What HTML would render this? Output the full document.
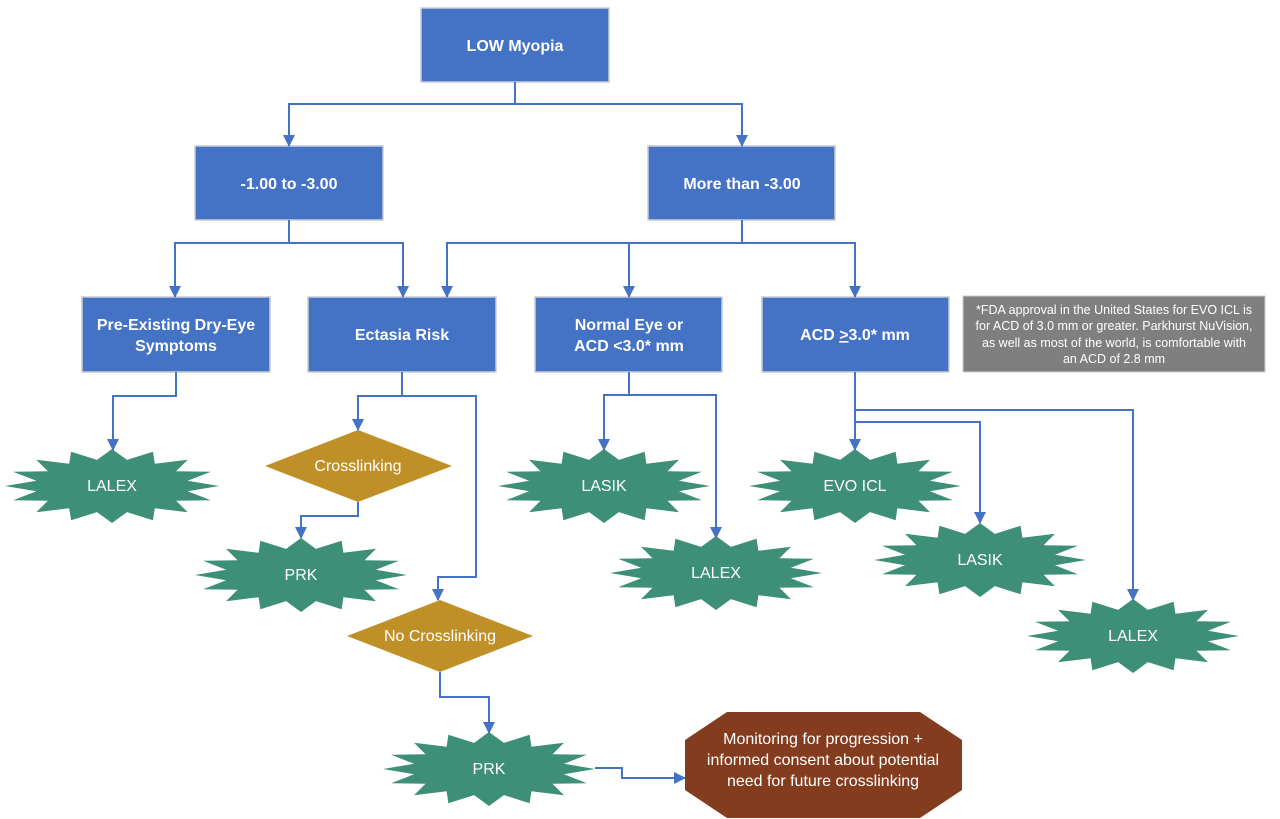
<!DOCTYPE html>
<html><head><meta charset="utf-8"><style>
body{margin:0;background:#fff;width:1280px;height:819px;overflow:hidden}
svg{display:block;font-family:"Liberation Sans",Arial,sans-serif}
.b{fill:#4472c4;stroke:#c9ccd3;stroke-width:1.5}
.bt{fill:#fff;font-weight:bold;font-size:16px;text-anchor:middle}
.t{fill:#fff;font-size:16px;text-anchor:middle}
.l{fill:none;stroke:#4472c4;stroke-width:2}
.st{fill:#3d8f77}
</style></head><body>
<svg id="s" width="1280" height="819" viewBox="0 0 1280 819">
<defs><marker id="a" markerWidth="14" markerHeight="14" refX="6" refY="11" orient="0" markerUnits="userSpaceOnUse"><path d="M0,0 L12,0 L6,12 Z" fill="#4472c4"/></marker>
<marker id="ar" markerWidth="14" markerHeight="14" refX="11" refY="6" orient="0" markerUnits="userSpaceOnUse"><path d="M0,0 L12,6 L0,12 Z" fill="#4472c4"/></marker></defs>
<g id="stars"></g>
<rect class="b" x="421" y="8" width="188" height="74"/><text class="bt" x="515" y="51">LOW Myopia</text>
<rect class="b" x="195" y="146" width="188" height="74"/><text class="bt" x="289" y="189">-1.00 to -3.00</text>
<rect class="b" x="648" y="146" width="187" height="74"/><text class="bt" x="742" y="189">More than -3.00</text>
<rect class="b" x="82" y="297" width="188" height="75"/><text class="bt" x="176" y="330">Pre-Existing Dry-Eye</text><text class="bt" x="176" y="351">Symptoms</text>
<rect class="b" x="308" y="297" width="188" height="75"/><text class="bt" x="402" y="340">Ectasia Risk</text>
<rect class="b" x="535" y="297" width="187" height="75"/><text class="bt" x="629" y="330">Normal Eye or</text><text class="bt" x="629" y="351">ACD &lt;3.0* mm</text>
<rect class="b" x="762" y="297" width="187" height="75"/><text class="bt" x="855" y="340">ACD <tspan text-decoration="underline">&gt;</tspan>3.0* mm</text>
<rect x="963" y="296" width="302" height="76" fill="#7f7f7f" stroke="#c9ccd3"/>
<g fill="#fff" font-size="12.5" text-anchor="middle"><text x="1114" y="314">*FDA approval in the United States for EVO ICL is</text><text x="1114" y="330">for ACD of 3.0 mm or greater. Parkhurst NuVision,</text><text x="1114" y="347">as well as most of the world, is comfortable with</text><text x="1114" y="363">an ACD of 2.8 mm</text></g>
<polygon points="265,466 358,430 452,466 358,502" fill="#bf9027"/><text class="t" x="358" y="471">Crosslinking</text>
<polygon points="347,636 440,600 533,636 440,672" fill="#bf9027"/><text class="t" x="440" y="641">No Crosslinking</text>
<polygon points="727,712 920,712 962,740 962,790 920,818 727,818 685,790 685,740" fill="#843c1f"/>
<g font-size="16"><text x="823" y="744" fill="#fff" text-anchor="middle">Monitoring for progression +</text><text x="823" y="765" fill="#fff" text-anchor="middle">informed consent about potential</text><text x="823" y="786" fill="#fff" text-anchor="middle">need for future crosslinking</text></g>
<g class="l">
<path d="M515,82V104H289V146" marker-end="url(#a)"/><path d="M515,104H742V146" marker-end="url(#a)"/>
<path d="M289,220V243H175V297" marker-end="url(#a)"/><path d="M289,243H403V297" marker-end="url(#a)"/>
<path d="M742,220V243H447V297" marker-end="url(#a)"/><path d="M629,243V297" marker-end="url(#a)"/><path d="M742,243H855V297" marker-end="url(#a)"/>
<path d="M176,372V396H113V450" marker-end="url(#a)"/>
<path d="M402,372V396H358V430" marker-end="url(#a)"/>
<path d="M402,396H476V577H438V600" marker-end="url(#a)"/>
<path d="M358,502V516H301V538" marker-end="url(#a)"/>
<path d="M440,672V697H489V733" marker-end="url(#a)"/>
<path d="M595,768H622V778H685" marker-end="url(#ar)"/>
<path d="M629,372V395H604V450" marker-end="url(#a)"/><path d="M629,395H716V538" marker-end="url(#a)"/>
<path d="M855,372V450" marker-end="url(#a)"/><path d="M855,422H980V523" marker-end="url(#a)"/><path d="M855,410H1133V600" marker-end="url(#a)"/>
</g>
<g id="lbl"></g>
</svg>
<script>
var S=[[112,486,107,37,"LALEX"],[301,575,106,37,"PRK"],[489,769,106,37,"PRK"],[604,486,106,37,"LASIK"],[716,573,106,37,"LALEX"],[855,486,106,37,"EVO ICL"],[980,560,106,37,"LASIK"],[1133,636,106,37,"LALEX"]];
var g=document.getElementById('stars'),ns="http://www.w3.org/2000/svg";
S.forEach(function(s){var n=16,p=[];for(var i=0;i<2*n;i++){var a=Math.PI*i/n-Math.PI/2,r=i%2?0.72:1;p.push((s[0]+s[2]*r*Math.cos(a)).toFixed(1)+","+(s[1]+s[3]*r*Math.sin(a)).toFixed(1));}
var e=document.createElementNS(ns,'polygon');e.setAttribute('points',p.join(' '));e.setAttribute('class','st');g.appendChild(e);
var t=document.createElementNS(ns,'text');t.setAttribute('x',s[0]);t.setAttribute('y',s[1]+5);t.setAttribute('class','t');t.textContent=s[4];document.getElementById('lbl').appendChild(t);});
</script>
</body></html>
